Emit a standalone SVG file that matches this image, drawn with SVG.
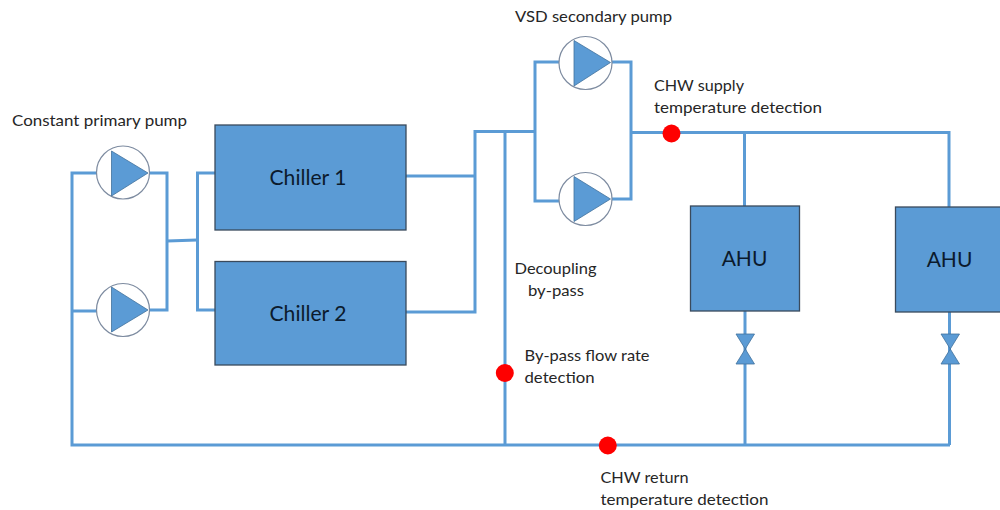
<svg xmlns="http://www.w3.org/2000/svg" width="1000" height="510" viewBox="0 0 1000 510">
<style>
text{font-family:"Lato","Carlito","Liberation Sans",sans-serif;font-size:16px;fill:#262626}
.big{font-size:21px;fill:#0b1a2c;text-anchor:middle}
.pipe{fill:none;stroke:#5b9bd5;stroke-width:3}
.box{fill:#5b9bd5;stroke:#3a4a5c;stroke-width:1.3}
.ring{fill:#fff;stroke:#7d8ba0;stroke-width:1.2}
.tri{fill:#5b9bd5;stroke:#41719c;stroke-width:.8}
.valve{fill:#5b9bd5;stroke:#41719c;stroke-width:.8}
.dot{fill:#fe0000}
</style>
<rect width="1000" height="510" fill="#fff"/>
<g id="connectors">
<path class="pipe" d="M97 173H72V445H950"/>
<path class="pipe" d="M72 311H97"/>
<path class="pipe" d="M149 173H167V310H149"/>
<path class="pipe" d="M167 241L197 240"/>
<path class="pipe" d="M215 173H197.500V310H215"/>
<path class="pipe" d="M406 176H475"/>
<path class="pipe" d="M406 312H475V131.500H535"/>
<path class="pipe" d="M505 131.500V445"/>
<path class="pipe" d="M559 62H535V201H559"/>
<path class="pipe" d="M611 62H631V199H611"/>
<path class="pipe" d="M631 132.500H949V207"/>
<path class="pipe" d="M744.500 132.500V206"/>
<path class="pipe" d="M745 311V445"/>
<path class="pipe" d="M949.500 312V445"/>
</g>
<g id="pump-primary-1"><circle class="ring" cx="123" cy="172.500" r="26.500"/><path class="tri" d="M111.500 151L148 173L111.500 196Z"/></g>
<g id="pump-primary-2"><circle class="ring" cx="123" cy="310" r="26.500"/><path class="tri" d="M111.500 287L148 310L111.500 332Z"/></g>
<g id="pump-secondary-1"><circle class="ring" cx="585.500" cy="63" r="26.500"/><path class="tri" d="M574 40.500L610.500 62.500L574 86Z"/></g>
<g id="pump-secondary-2"><circle class="ring" cx="585.500" cy="199" r="26.500"/><path class="tri" d="M574 176.500L610.500 199L574 221.500Z"/></g>
<g id="chiller-1"><rect class="box" x="215" y="125" width="191" height="105"/><text class="big" x="308" y="185" textLength="77" lengthAdjust="spacingAndGlyphs">Chiller 1</text></g>
<g id="chiller-2"><rect class="box" x="215" y="261.500" width="191" height="103.500"/><text class="big" x="308" y="321" textLength="77" lengthAdjust="spacingAndGlyphs">Chiller 2</text></g>
<g id="ahu-1"><rect class="box" x="690.500" y="206" width="109" height="105"/><text class="big" x="744.500" y="266">AHU</text></g>
<g id="ahu-2"><rect class="box" x="895.500" y="207" width="109" height="105"/><text class="big" x="949.500" y="267">AHU</text></g>
<g id="valve-1"><path class="valve" d="M736 334H754.500L736 364H754.500Z"/></g>
<g id="valve-2"><path class="valve" d="M941 334H959.500L941 364H959.500Z"/></g>
<g id="sensor-supply"><circle class="dot" cx="671.500" cy="133.500" r="9"/></g>
<g id="sensor-bypass"><circle class="dot" cx="504.800" cy="373" r="9"/></g>
<g id="sensor-return"><circle class="dot" cx="607.800" cy="445.500" r="9"/></g>
<g id="labels">
<text x="12" y="126" textLength="175" lengthAdjust="spacingAndGlyphs">Constant primary pump</text>
<text x="515" y="22" textLength="157" lengthAdjust="spacingAndGlyphs">VSD secondary pump</text>
<text x="654" y="91" textLength="90" lengthAdjust="spacingAndGlyphs">CHW supply</text>
<text x="654" y="113" textLength="168" lengthAdjust="spacingAndGlyphs">temperature detection</text>
<text x="514.500" y="274" textLength="82" lengthAdjust="spacingAndGlyphs">Decoupling</text>
<text x="528" y="296" textLength="56" lengthAdjust="spacingAndGlyphs">by-pass</text>
<text x="524.500" y="361" textLength="125" lengthAdjust="spacingAndGlyphs">By-pass flow rate</text>
<text x="524.500" y="383" textLength="70" lengthAdjust="spacingAndGlyphs">detection</text>
<text x="600.500" y="483" textLength="88" lengthAdjust="spacingAndGlyphs">CHW return</text>
<text x="600.500" y="505" textLength="168" lengthAdjust="spacingAndGlyphs">temperature detection</text>
</g>
</svg>
